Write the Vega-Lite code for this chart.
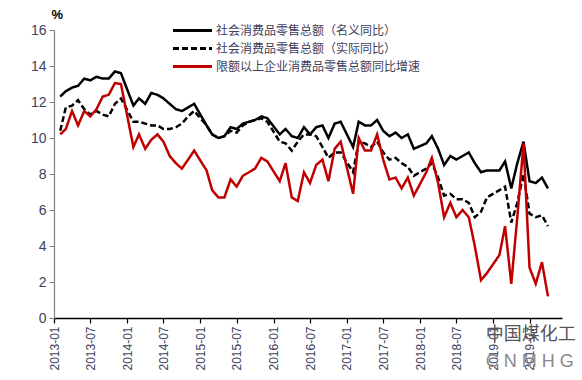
{
  "$schema": "https://vega.github.io/schema/vega-lite/v6.json",
  "width": 508,
  "height": 288,
  "autosize": {"type": "none"},
  "padding": {"left": 54, "top": 30, "right": 20, "bottom": 62},
  "background": "white",
  "config": {"view": {"stroke": null}, "font": "Liberation Sans", "axis": {"labelOverlap": false}},
  "resolve": {"axis": {"x": "independent", "y": "independent"}},
  "layer": [
    {
      "data": {"values": [
        {"d":"2013/02/01","n":12.3,"r":10.4,"q":10.2},
        {"d":"2013/03/01","n":12.6,"r":11.7,"q":10.5},
        {"d":"2013/04/01","n":12.8,"r":11.8,"q":11.5},
        {"d":"2013/05/01","n":12.9,"r":12.1,"q":10.7},
        {"d":"2013/06/01","n":13.3,"r":11.6,"q":11.5},
        {"d":"2013/07/01","n":13.2,"r":11.3,"q":11.2},
        {"d":"2013/08/01","n":13.4,"r":11.5,"q":11.6},
        {"d":"2013/09/01","n":13.3,"r":11.3,"q":12.3},
        {"d":"2013/10/01","n":13.3,"r":11.2,"q":12.4},
        {"d":"2013/11/01","n":13.7,"r":11.9,"q":13.05},
        {"d":"2013/12/01","n":13.6,"r":12.2,"q":13.0},
        {"d":"2014/02/01","n":11.8,"r":10.9,"q":9.5},
        {"d":"2014/03/01","n":12.2,"r":10.9,"q":10.2},
        {"d":"2014/04/01","n":11.9,"r":10.8,"q":9.4},
        {"d":"2014/05/01","n":12.5,"r":10.7,"q":9.9},
        {"d":"2014/06/01","n":12.4,"r":10.7,"q":10.2},
        {"d":"2014/07/01","n":12.2,"r":10.5,"q":9.8},
        {"d":"2014/08/01","n":11.9,"r":10.5,"q":9.0},
        {"d":"2014/09/01","n":11.6,"r":10.6,"q":8.6},
        {"d":"2014/10/01","n":11.5,"r":10.8,"q":8.3},
        {"d":"2014/11/01","n":11.7,"r":11.2,"q":8.8},
        {"d":"2014/12/01","n":11.9,"r":11.5,"q":9.3},
        {"d":"2015/02/01","n":10.7,"r":10.7,"q":8.2},
        {"d":"2015/03/01","n":10.2,"r":10.2,"q":7.1},
        {"d":"2015/04/01","n":10.0,"r":10.0,"q":6.7},
        {"d":"2015/05/01","n":10.1,"r":10.1,"q":6.7},
        {"d":"2015/06/01","n":10.6,"r":10.4,"q":7.7},
        {"d":"2015/07/01","n":10.5,"r":10.3,"q":7.3},
        {"d":"2015/08/01","n":10.8,"r":10.7,"q":7.9},
        {"d":"2015/09/01","n":10.9,"r":10.9,"q":8.1},
        {"d":"2015/10/01","n":11.0,"r":11.0,"q":8.3},
        {"d":"2015/11/01","n":11.2,"r":11.1,"q":8.9},
        {"d":"2015/12/01","n":11.1,"r":10.9,"q":8.7},
        {"d":"2016/02/01","n":10.2,"r":9.8,"q":7.6},
        {"d":"2016/03/01","n":10.5,"r":9.7,"q":8.6},
        {"d":"2016/04/01","n":10.1,"r":9.3,"q":6.7},
        {"d":"2016/05/01","n":10.0,"r":9.8,"q":6.5},
        {"d":"2016/06/01","n":10.6,"r":10.2,"q":8.1},
        {"d":"2016/07/01","n":10.2,"r":10.2,"q":7.5},
        {"d":"2016/08/01","n":10.6,"r":10.1,"q":8.5},
        {"d":"2016/09/01","n":10.7,"r":9.5,"q":8.8},
        {"d":"2016/10/01","n":10.0,"r":8.9,"q":7.6},
        {"d":"2016/11/01","n":10.8,"r":9.2,"q":9.4},
        {"d":"2016/12/01","n":10.9,"r":9.2,"q":9.8},
        {"d":"2017/02/01","n":9.5,"r":8.1,"q":6.9},
        {"d":"2017/03/01","n":10.9,"r":9.8,"q":10.0},
        {"d":"2017/04/01","n":10.7,"r":9.7,"q":9.3},
        {"d":"2017/05/01","n":10.7,"r":9.5,"q":9.3},
        {"d":"2017/06/01","n":11.0,"r":9.8,"q":10.2},
        {"d":"2017/07/01","n":10.4,"r":9.2,"q":8.8},
        {"d":"2017/08/01","n":10.1,"r":8.8,"q":7.7},
        {"d":"2017/09/01","n":10.3,"r":8.9,"q":7.8},
        {"d":"2017/10/01","n":10.0,"r":8.6,"q":7.2},
        {"d":"2017/11/01","n":10.2,"r":8.4,"q":7.8},
        {"d":"2017/12/01","n":9.4,"r":7.9,"q":6.8},
        {"d":"2018/02/01","n":9.7,"r":8.3,"q":8.1},
        {"d":"2018/03/01","n":10.1,"r":8.6,"q":8.9},
        {"d":"2018/04/01","n":9.4,"r":7.8,"q":7.5},
        {"d":"2018/05/01","n":8.5,"r":6.8,"q":5.6},
        {"d":"2018/06/01","n":9.0,"r":6.9,"q":6.4},
        {"d":"2018/07/01","n":8.8,"r":6.6,"q":5.6},
        {"d":"2018/08/01","n":9.0,"r":6.6,"q":6.0},
        {"d":"2018/09/01","n":9.2,"r":6.4,"q":5.6},
        {"d":"2018/10/01","n":8.6,"r":5.6,"q":4.0},
        {"d":"2018/11/01","n":8.1,"r":5.9,"q":2.1},
        {"d":"2018/12/01","n":8.2,"r":6.7,"q":2.5},
        {"d":"2019/02/01","n":8.2,"r":7.1,"q":3.5},
        {"d":"2019/03/01","n":8.7,"r":7.3,"q":5.1},
        {"d":"2019/04/01","n":7.2,"r":5.3,"q":1.9},
        {"d":"2019/05/01","n":8.6,"r":6.4,"q":5.6},
        {"d":"2019/06/01","n":9.8,"r":8.0,"q":9.7},
        {"d":"2019/07/01","n":7.6,"r":5.8,"q":2.8},
        {"d":"2019/08/01","n":7.5,"r":5.6,"q":1.9},
        {"d":"2019/09/01","n":7.8,"r":5.7,"q":3.1},
        {"d":"2019/10/01","n":7.2,"r":5.1,"q":1.2}
      ]},
      "transform": [{"fold": ["n", "r", "q"], "as": ["series", "value"]}],
      "mark": {"type": "line", "strokeWidth": 2.5, "strokeJoin": "miter"},
      "encoding": {
        "x": {
          "field": "d", "type": "temporal",
          "scale": {"domain": [{"year": 2013, "month": 1, "date": 1}, {"year": 2019, "month": 12, "date": 10}]},
          "axis": {
            "title": null,
            "format": "%Y-%m",
            "values": [
              {"year":2013,"month":1,"date":1},{"year":2013,"month":7,"date":1},
              {"year":2014,"month":1,"date":1},{"year":2014,"month":7,"date":1},
              {"year":2015,"month":1,"date":1},{"year":2015,"month":7,"date":1},
              {"year":2016,"month":1,"date":1},{"year":2016,"month":7,"date":1},
              {"year":2017,"month":1,"date":1},{"year":2017,"month":7,"date":1},
              {"year":2018,"month":1,"date":1},{"year":2018,"month":7,"date":1},
              {"year":2019,"month":1,"date":1},{"year":2019,"month":7,"date":1}
            ],
            "labelAngle": 270,
            "labelFontSize": 12,
            "labelFont": "Liberation Sans",
            "labelColor": "#404060",
            "labelPadding": 3,
            "domainColor": "#000000",
            "domainWidth": 1.5,
            "tickColor": "#000000",
            "tickSize": 5,
            "tickWidth": 1.2,
            "grid": false,
            "labelOverlap": false,
            "labelFlush": false
          }
        },
        "y": {
          "field": "value", "type": "quantitative",
          "scale": {"domain": [0, 16], "nice": false},
          "axis": {
            "title": "%",
            "titleAngle": 0,
            "titleAlign": "left",
            "titleBaseline": "alphabetic",
            "titleX": -3,
            "titleY": -12,
            "titleFontSize": 13,
            "titleFont": "Liberation Sans",
            "titleFontWeight": "bold",
            "titleColor": "#000000",
            "values": [0, 2, 4, 6, 8, 10, 12, 14, 16],
            "labelOverlap": false,
            "labelFontSize": 14,
            "labelFont": "Liberation Sans",
            "labelColor": "#404060",
            "labelPadding": 3,
            "domainColor": "#808080",
            "domainWidth": 1.2,
            "tickColor": "#808080",
            "tickSize": 5,
            "grid": false
          }
        },
        "color": {
          "field": "series", "type": "nominal",
          "scale": {"domain": ["n", "r", "q"], "range": ["#000000", "#000000", "#c00000"]},
          "legend": {
            "orient": "none",
            "legendX": 127,
            "legendY": -11,
            "title": null,
            "symbolType": "M-2,0H2",
            "symbolSize": 380,
            "symbolStrokeWidth": 3,
            "labelFont": "Noto Sans CJK SC",
            "labelFontSize": 12,
            "labelColor": "#404060",
            "labelOffset": 12,
            "labelLimit": 400,
            "rowPadding": -1,
            "labelExpr": "datum.label == 'n' ? '社会消费品零售总额（名义同比）' : datum.label == 'r' ? '社会消费品零售总额（实际同比）' : '限额以上企业消费品零售总额同比增速'"
          }
        },
        "strokeDash": {
          "field": "series", "type": "nominal",
          "scale": {"domain": ["n", "r", "q"], "range": [[1, 0], [6, 3], [1, 0]]},
          "legend": null
        }
      }
    },
    {
      "data": {"values": [{"t": "中国煤化工"}]},
      "mark": {"type": "text", "align": "left", "baseline": "middle", "fontSize": 18, "font": "Noto Sans CJK SC", "color": "#555555"},
      "encoding": {
        "x": {"datum": {"year": 2018, "month": 11, "date": 25}, "type": "temporal", "axis": null},
        "y": {"datum": -0.95, "axis": null},
        "text": {"field": "t"}
      }
    },
    {
      "data": {"values": [{"t": "C N M H G"}]},
      "mark": {"type": "text", "align": "left", "baseline": "middle", "fontSize": 18, "font": "Liberation Sans", "color": "#8a8a8a"},
      "encoding": {
        "x": {"datum": {"year": 2018, "month": 11, "date": 25}, "type": "temporal", "axis": null},
        "y": {"datum": -2.45, "axis": null},
        "text": {"field": "t"}
      }
    }
  ]
}
